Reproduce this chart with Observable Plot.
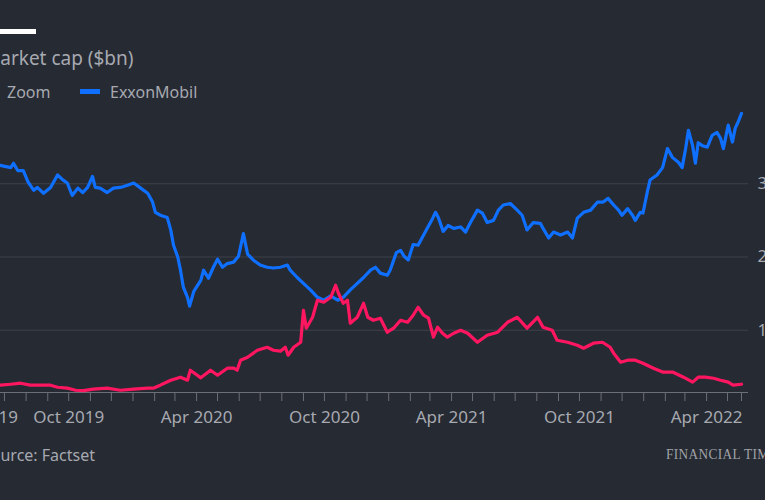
<!DOCTYPE html>
<html>
<head>
<meta charset="utf-8">
<script src="https://cdn.jsdelivr.net/npm/d3@7"></script>
<script src="https://cdn.jsdelivr.net/npm/@observablehq/plot@0.6"></script>
<style>
  html, body { margin: 0; padding: 0; }
  body { width: 765px; height: 500px; overflow: hidden; position: relative; background: #262a33; font-family: "Noto Sans", sans-serif; color: #a7a9b0; }
  .abs { position: absolute; white-space: nowrap; }
  #bar { left: -22px; top: 29px; width: 58px; height: 5px; background: #ffffff; }
  #title { left: -17px; top: 49px; font-size: 19px; line-height: 19px; }
  .sw { height: 5px; width: 20px; top: 89px; }
  .leg { top: 84px; font-size: 16px; line-height: 16px; }
  #source { left: -18px; top: 447px; font-size: 16px; line-height: 16px; }
  #ft { left: 666px; top: 448px; font-family: "Liberation Serif", serif; font-size: 14px; line-height: 14px; transform: scaleX(0.95); transform-origin: left center; letter-spacing: 0.4px; color: #a0a2a8; }
  #chart { left: -60px; top: 100px; width: 860px; }
</style>
</head>
<body>
<div id="bar" class="abs"></div>
<div id="title" class="abs">Market cap ($bn)</div>
<div class="abs sw" style="left:-20px;background:#ff1660"></div>
<div class="abs leg" style="left:7px">Zoom</div>
<div class="abs sw" style="left:80px;background:#0f6fff"></div>
<div class="abs leg" style="left:110px">ExxonMobil</div>
<div id="source" class="abs">Source: Factset</div>
<div id="ft" class="abs">FINANCIAL TIMES</div>
<div id="chart" class="abs"></div>
<script>
const exxonDates = ["2019-06-01","2019-06-14","2019-06-25","2019-07-10","2019-07-14","2019-07-20","2019-07-28","2019-08-04","2019-08-12","2019-08-17","2019-08-26","2019-09-05","2019-09-15","2019-09-23","2019-09-29","2019-10-06","2019-10-14","2019-10-21","2019-10-28","2019-11-04","2019-11-08","2019-11-15","2019-11-25","2019-12-04","2019-12-14","2019-12-24","2020-01-02","2020-01-12","2020-01-22","2020-01-29","2020-02-02","2020-02-09","2020-02-19","2020-02-24","2020-02-28","2020-03-05","2020-03-09","2020-03-13","2020-03-19","2020-03-22","2020-03-28","2020-04-07","2020-04-11","2020-04-18","2020-04-25","2020-05-01","2020-05-08","2020-05-15","2020-05-24","2020-05-31","2020-06-07","2020-06-13","2020-06-21","2020-07-01","2020-07-11","2020-07-20","2020-07-30","2020-08-09","2020-08-13","2020-08-23","2020-09-01","2020-09-11","2020-09-21","2020-09-30","2020-10-10","2020-10-20","2020-10-28","2020-11-07","2020-11-17","2020-11-26","2020-12-06","2020-12-13","2020-12-20","2020-12-30","2021-01-03","2021-01-12","2021-01-18","2021-01-23","2021-01-29","2021-02-05","2021-02-12","2021-02-20","2021-02-25","2021-03-05","2021-03-09","2021-03-13","2021-03-20","2021-03-27","2021-04-04","2021-04-14","2021-04-21","2021-04-28","2021-05-08","2021-05-15","2021-05-22","2021-05-31","2021-06-07","2021-06-14","2021-06-24","2021-07-04","2021-07-11","2021-07-18","2021-07-27","2021-08-06","2021-08-10","2021-08-18","2021-08-25","2021-09-04","2021-09-14","2021-09-21","2021-09-28","2021-10-07","2021-10-17","2021-10-27","2021-11-04","2021-11-11","2021-11-19","2021-11-26","2021-12-01","2021-12-09","2021-12-16","2021-12-20","2021-12-27","2021-12-31","2022-01-06","2022-01-10","2022-01-20","2022-01-28","2022-02-04","2022-02-11","2022-02-20","2022-02-25","2022-03-02","2022-03-06","2022-03-12","2022-03-16","2022-03-20","2022-03-26","2022-04-02","2022-04-09","2022-04-16","2022-04-21","2022-04-25","2022-05-02","2022-05-08","2022-05-12","2022-05-16","2022-05-21"];
const exxonValues = [329,327,325,322,328,318,318,302,291,295,287,295,312,305,301,284,294,288,295,310,295,294,288,294,295,298,301,294,287,275,261,257,254,237,216,200,182,159,145,133,153,168,182,171,186,197,186,191,193,201,232,204,196,189,186,185,186,189,182,172,164,155,145,141,147,141,145,155,164,172,182,186,178,175,182,206,209,201,196,217,216,230,239,253,261,254,235,243,239,241,234,247,264,260,247,250,264,271,273,264,257,237,247,246,239,226,234,230,234,226,253,261,264,275,275,280,271,264,257,266,257,250,261,260,288,305,312,322,348,336,329,322,348,373,352,328,356,352,350,366,370,362,348,380,357,376,384,396];

const zoomDates = ["2019-06-01","2019-06-14","2019-06-25","2019-07-10","2019-07-24","2019-08-07","2019-08-22","2019-09-05","2019-09-15","2019-09-29","2019-10-11","2019-10-22","2019-11-05","2019-11-25","2019-12-14","2020-01-02","2020-01-22","2020-01-30","2020-02-09","2020-02-24","2020-03-09","2020-03-19","2020-03-23","2020-04-02","2020-04-07","2020-04-21","2020-05-01","2020-05-15","2020-05-24","2020-05-29","2020-06-03","2020-06-13","2020-06-27","2020-07-11","2020-07-20","2020-07-30","2020-08-06","2020-08-10","2020-08-18","2020-08-28","2020-09-01","2020-09-05","2020-09-14","2020-09-21","2020-09-30","2020-10-10","2020-10-17","2020-10-21","2020-10-28","2020-11-03","2020-11-07","2020-11-17","2020-11-26","2020-12-02","2020-12-10","2020-12-20","2020-12-30","2021-01-08","2021-01-18","2021-01-28","2021-02-05","2021-02-12","2021-02-20","2021-02-27","2021-03-06","2021-03-12","2021-03-19","2021-03-26","2021-04-04","2021-04-14","2021-04-24","2021-05-08","2021-05-22","2021-06-06","2021-06-20","2021-07-04","2021-07-18","2021-08-02","2021-08-10","2021-08-23","2021-08-30","2021-09-14","2021-09-28","2021-10-07","2021-10-21","2021-11-03","2021-11-14","2021-11-19","2021-11-29","2021-12-09","2021-12-20","2021-12-31","2022-01-15","2022-01-29","2022-02-12","2022-02-27","2022-03-12","2022-03-20","2022-03-30","2022-04-11","2022-04-21","2022-05-02","2022-05-09","2022-05-21"];
const zoomValues = [23.6,25,25,26.3,27.7,25,25,25,22.2,20.9,18.1,17.5,19.5,20.9,18.1,19.5,20.9,20.9,25,31.8,35.9,31.8,45.4,38.6,35,45.4,38.6,48.2,48.2,45.4,59.1,63.2,72.7,76.8,72.7,71.4,76.8,65.9,76.8,83.6,127.3,102.8,117.7,140.9,138.2,145,161.4,150.5,136.8,140.9,109.6,117.7,136.8,117.7,113.6,116.4,97.3,102.8,113.6,110.9,120.5,131.4,120.5,116.4,90.5,104.1,95.9,90.5,95.9,100,95.9,83.6,93.2,97.3,110.9,117.7,102.8,117.7,104.1,100,86.4,83.6,79.5,75.4,82.3,83.6,76.8,68.7,56.4,59.1,59.1,55,48.2,42.7,42.7,35.9,29.1,35.9,35.9,34.5,31.8,29.1,25,26.3];

const tickDates = ["2019-06-01","2019-07-01","2019-08-01","2019-09-01","2019-10-01","2019-11-01","2019-12-01","2020-01-01","2020-02-01","2020-03-01","2020-04-01","2020-05-01","2020-06-01","2020-07-01","2020-08-01","2020-09-01","2020-10-01","2020-11-01","2020-12-01","2021-01-01","2021-02-01","2021-03-01","2021-04-01","2021-05-01","2021-06-01","2021-07-01","2021-08-01","2021-09-01","2021-10-01","2021-11-01","2021-12-01","2022-01-01","2022-02-01","2022-03-01","2022-04-01","2022-05-01","2022-05-21"];
const labelDates = ["2019-06-01","2019-10-01","2020-04-01","2020-10-01","2021-04-01","2021-10-01","2022-04-01"];
const labelTexts = ["Jun 2019","Oct 2019","Apr 2020","Oct 2020","Apr 2021","Oct 2021","Apr 2022"];
const yTicks = [100, 200, 300];
const yTickLabels = ["100", "200", "300"];
const xDomain = ["2019-06-01", "2022-05-31"];
const yDomain = [15, 400];

const parse = s => new Date(s + "T00:00:00Z");
const exxon = exxonDates.map((d, i) => ({date: parse(d), value: exxonValues[i]}));
const zoom = zoomDates.map((d, i) => ({date: parse(d), value: zoomValues[i]}));
const labelMap = new Map(labelDates.map((d, i) => [+parse(d), labelTexts[i]]));
const yLabelMap = new Map(yTicks.map((v, i) => [v, yTickLabels[i]]));

const chart = Plot.plot({
  width: 860,
  height: 340,
  marginLeft: 43,
  marginRight: 52,
  marginTop: 10,
  marginBottom: 48,
  style: {background: "transparent", color: "#a7a9b0", fontSize: "17px", fontFamily: "'Noto Sans', sans-serif", overflow: "visible"},
  x: {type: "utc", domain: xDomain.map(parse)},
  y: {domain: yDomain},
  marks: [
    Plot.gridY(yTicks, {stroke: "#3d414b", strokeOpacity: 1, strokeWidth: 1}),
    Plot.axisY(yTicks, {anchor: "right", tickSize: 0, tickPadding: 9, textAnchor: "start", label: null, tickFormat: v => yLabelMap.get(v), fill: "#a7a9b0"}),
    Plot.ruleY([yDomain[0]], {stroke: "#6c6f77", strokeWidth: 1.2}),
    Plot.axisX(tickDates.map(parse), {tickSize: 9, tickFormat: () => "", label: null, stroke: "#6c6f77"}),
    Plot.axisX(labelDates.map(parse), {tickSize: 0, tickPadding: 18, tickFormat: d => labelMap.get(+d), label: null, fill: "#a7a9b0"}),
    Plot.lineY(exxon, {x: "date", y: "value", stroke: "#0f6fff", strokeWidth: 3.2, strokeLinejoin: "round"}),
    Plot.lineY(zoom, {x: "date", y: "value", stroke: "#ff1660", strokeWidth: 3.2, strokeLinejoin: "round"})
  ]
});
document.getElementById("chart").appendChild(chart);
</script>
</body>
</html>
